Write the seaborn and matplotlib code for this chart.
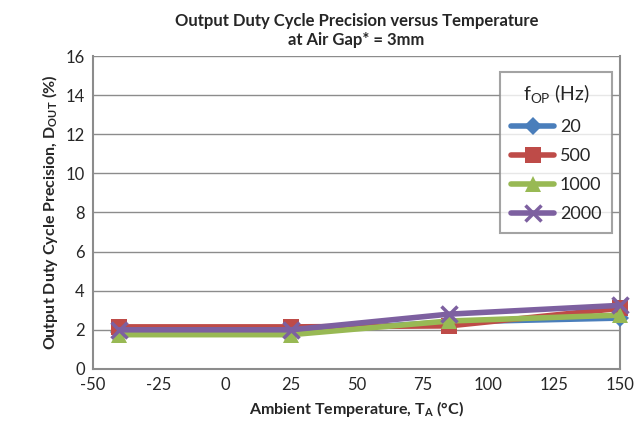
import matplotlib.pyplot as plt
import pandas as pd
import seaborn as sns

# values
temps = [-40, 25, 85, 150]
freqs = ['20', '500', '1000', '2000']
duty_20 = [1.9, 1.9, 2.4, 2.6]
duty_500 = [2.15, 2.15, 2.2, 3.1]
duty_1000 = [1.75, 1.75, 2.45, 2.75]
duty_2000 = [2.0, 2.0, 2.8, 3.25]

rows = []
for f, vals in zip(freqs, [duty_20, duty_500, duty_1000, duty_2000]):
    for t, v in zip(temps, vals):
        rows.append({'temp': t, 'duty': v, 'freq': f})
df = pd.DataFrame(rows)

sns.set_style('white')
plt.rcParams['font.family'] = ['Lato', 'DejaVu Sans']
plt.rcParams['axes.unicode_minus'] = False

colors = ['#4a7ebb', '#be4b48', '#98b954', '#7d60a0']
markers = ['D', 's', '^', 'x']
msizes = [9, 11, 11, 11]

fig, ax = plt.subplots(figsize=(6.38, 4.45), dpi=100)
fig.subplots_adjust(left=0.146, right=0.972, top=0.874, bottom=0.171)

for f, c, m, ms in zip(freqs, colors, markers, msizes):
    sub = df[df['freq'] == f]
    sns.lineplot(data=sub, x='temp', y='duty', color=c, marker=m, markersize=ms,
                 markeredgewidth=2.5 if m == 'x' else 0, markeredgecolor=c,
                 linewidth=4, label=f, ax=ax, clip_on=False, zorder=3)

ax.set_xlim(-50, 150)
ax.set_ylim(0, 16)
ax.set_xticks(range(-50, 151, 25))
ax.set_yticks(range(0, 17, 2))
ax.tick_params(labelsize=12, length=0, pad=6)
ax.yaxis.grid(True, color='#8c8c8c', linewidth=1)
for s in ax.spines.values():
    s.set_color('#8c8c8c')
    s.set_linewidth(1.5)
ax.spines['top'].set_visible(False)

ax.set_xlabel('Ambient Temperature, T$_\\mathregular{A}$ (\u00b0C)', fontsize=11.5, fontweight='bold')
ax.set_ylabel('Output Duty Cycle Precision, D$_\\mathregular{OUT}$ (%)', fontsize=11.5, fontweight='bold')
ax.set_title('Output Duty Cycle Precision versus Temperature\nat Air Gap* = 3mm',
             fontsize=12, fontweight='bold', pad=8)

leg = ax.legend(title='f$_\\mathregular{OP}$ (Hz)', loc='upper right', bbox_to_anchor=(0.985, 0.949),
                borderaxespad=0, fontsize=13, title_fontsize=14, frameon=True, fancybox=False,
                edgecolor='#8c8c8c', handlelength=2.4, handletextpad=0.3,
                borderpad=0.6, labelspacing=0.72)
leg.get_frame().set_linewidth(1.5)

plt.savefig('out.png')
